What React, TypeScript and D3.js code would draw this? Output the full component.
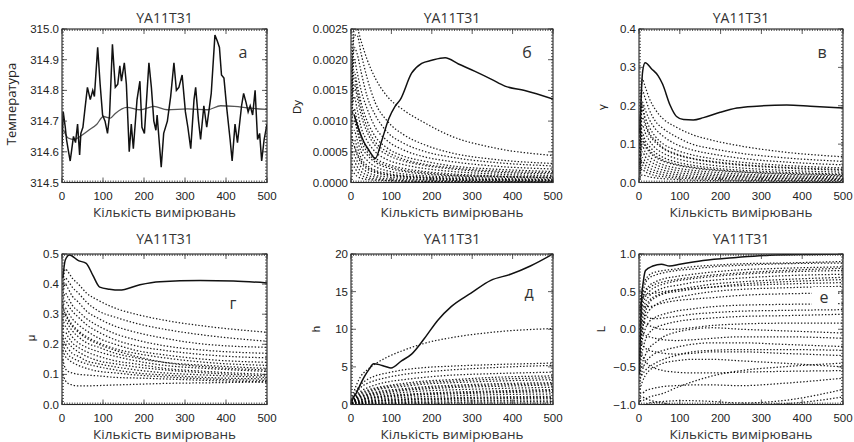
import React from 'react';
import * as d3 from 'd3';

const W = 854;
const H = 442;

// box positions of the 3x2 grid
const cols = [[62, 267], [351, 553], [639, 843]];
const rows = [[29, 182.5], [254, 404.5]];

const xTicks = [0, 100, 200, 300, 400, 500];
// common x points of the dotted ensemble curves
const ensX = [2, 8, 15, 25, 40, 60, 90, 130, 180, 250, 350, 500];

// panel a: temperature
const tempPoints = [
  [0, 314.62], [3, 314.73], [8, 314.68], [11, 314.64], [16, 314.60], [20, 314.57], [25, 314.62],
  [28, 314.65], [33, 314.63], [38, 314.69], [43, 314.59], [46, 314.66], [51, 314.68], [56, 314.74],
  [62, 314.81], [69, 314.77], [75, 314.80], [79, 314.78], [87, 314.94], [93, 314.82], [99, 314.72],
  [105, 314.70], [111, 314.66], [116, 314.72], [123, 314.95], [130, 314.81], [136, 314.82],
  [141, 314.88], [145, 314.83], [152, 314.89], [157, 314.82], [164, 314.60], [169, 314.69],
  [174, 314.61], [183, 314.77], [190, 314.83], [195, 314.68], [201, 314.66], [212, 314.89],
  [218, 314.81], [224, 314.70], [229, 314.67], [232, 314.72], [242, 314.55], [248, 314.66],
  [257, 314.70], [265, 314.78], [273, 314.89], [279, 314.80], [285, 314.81], [293, 314.85],
  [301, 314.73], [307, 314.68], [314, 314.61], [322, 314.77], [326, 314.81], [333, 314.70],
  [338, 314.64], [346, 314.75], [353, 314.68], [364, 314.79], [373, 314.98], [379, 314.96],
  [384, 314.94], [389, 314.85], [395, 314.84], [402, 314.74], [410, 314.64], [415, 314.57],
  [422, 314.69], [428, 314.63], [438, 314.75], [443, 314.79], [449, 314.76], [454, 314.73],
  [459, 314.75], [465, 314.72], [471, 314.80], [477, 314.64], [482, 314.66], [487, 314.57],
  [493, 314.64], [500, 314.69],
];
const tempMean = [
  [4, 314.67], [15, 314.645], [30, 314.64], [44, 314.65], [65, 314.67], [85, 314.69], [101, 314.715],
  [118, 314.71], [130, 314.725], [158, 314.745], [191, 314.737], [224, 314.748], [257, 314.737],
  [306, 314.74], [355, 314.737], [387, 314.75], [420, 314.748], [460, 314.742], [500, 314.738],
];

// panel b: Dy
const dyMain = [
  [8, 0.0011], [20, 0.00085], [32, 0.00066], [45, 0.00052], [60, 0.00039], [76, 0.00068], [93, 0.00103],
  [109, 0.00124], [122, 0.00135], [150, 0.00178], [175, 0.00194], [200, 0.00199], [233, 0.00203],
  [266, 0.00193], [307, 0.00181], [348, 0.00168], [381, 0.00157], [430, 0.0015], [500, 0.00136],
];
const dyEns = [
  [0.0018, 0.0025, 0.0025, 0.0023, 0.0020, 0.0017, 0.0014, 0.00118, 0.00098, 0.00075, 0.00057, 0.00044],
  [0.0016, 0.0024, 0.0024, 0.0021, 0.0017, 0.0013, 0.0010, 0.00078, 0.00062, 0.00048, 0.00038, 0.00031],
  [0.0015, 0.0022, 0.0021, 0.0018, 0.0014, 0.0011, 0.00082, 0.00064, 0.00051, 0.00041, 0.00033, 0.00027],
  [0.0014, 0.0020, 0.0018, 0.0015, 0.0012, 0.0009, 0.00068, 0.00053, 0.00042, 0.00034, 0.00027, 0.00022],
  [0.0013, 0.0018, 0.0016, 0.0013, 0.0010, 0.00075, 0.00056, 0.00043, 0.00035, 0.00027, 0.00022, 0.00018],
  [0.0012, 0.0016, 0.0014, 0.0011, 0.00082, 0.0006, 0.00045, 0.00035, 0.00028, 0.00022, 0.00017, 0.00014],
  [0.0011, 0.0014, 0.0012, 0.0009, 0.00068, 0.0005, 0.00037, 0.00029, 0.00023, 0.00018, 0.00014, 0.00011],
  [0.0010, 0.0012, 0.0010, 0.00075, 0.00055, 0.0004, 0.0003, 0.00023, 0.00018, 0.00014, 0.00011, 0.00009],
  [0.0009, 0.0010, 0.00085, 0.0006, 0.00045, 0.00033, 0.00024, 0.00018, 0.00014, 0.00011, 0.00009, 0.00007],
  [0.0008, 0.00085, 0.0007, 0.0005, 0.00036, 0.00026, 0.00019, 0.00014, 0.00011, 0.00009, 0.00007, 0.00005],
  [0.0007, 0.0007, 0.00058, 0.0004, 0.00028, 0.0002, 0.00015, 0.00011, 0.00009, 0.00007, 0.00005, 0.00004],
  [0.0006, 0.00058, 0.00045, 0.00032, 0.00022, 0.00016, 0.00012, 0.00009, 0.00007, 0.00005, 0.00004, 0.00003],
  [0.0005, 0.00045, 0.00035, 0.00025, 0.00017, 0.00012, 0.00009, 0.00007, 0.00005, 0.00004, 0.00003, 0.00002],
  [0.0004, 0.00035, 0.00026, 0.00018, 0.00012, 0.00009, 0.00006, 0.00005, 0.00004, 0.00003, 0.00002, 0.00001],
  [0.0003, 0.00025, 0.00018, 0.00012, 0.00008, 0.00006, 0.00004, 0.00003, 0.00002, 0.00002, 0.00001, 0.00001],
  [0.0002, 0.00015, 0.0001, 0.00007, 0.00005, 0.00004, 0.00003, 0.00002, 0.00002, 0.00001, 0.00001, 0.000005],
  [0.00165, 0.0017, 0.0015, 0.0012, 0.0009, 0.00066, 0.0005, 0.00038, 0.0003, 0.00024, 0.00019, 0.00016],
  [0.00115, 0.0011, 0.0009, 0.00068, 0.0005, 0.00036, 0.00027, 0.0002, 0.00016, 0.00012, 0.0001, 0.00008],
  [0.00075, 0.0006, 0.00048, 0.00035, 0.00025, 0.00018, 0.00013, 0.0001, 0.00008, 0.00006, 0.00005, 0.00004],
];

// panel c: gamma
const gammaMain = [
  [2, 0.13], [9, 0.29], [15, 0.312], [31, 0.296], [47, 0.278], [58, 0.256], [76, 0.202], [92, 0.172],
  [109, 0.164], [133, 0.163], [158, 0.169], [199, 0.183], [240, 0.194], [289, 0.199], [362, 0.202],
  [420, 0.199], [500, 0.194],
];
const gammaEns = [
  [0.12, 0.27, 0.25, 0.22, 0.19, 0.165, 0.145, 0.125, 0.11, 0.095, 0.08, 0.067],
  [0.10, 0.24, 0.22, 0.19, 0.16, 0.14, 0.12, 0.10, 0.088, 0.076, 0.065, 0.055],
  [0.09, 0.21, 0.19, 0.165, 0.14, 0.12, 0.10, 0.085, 0.074, 0.063, 0.054, 0.046],
  [0.08, 0.19, 0.17, 0.145, 0.12, 0.10, 0.085, 0.072, 0.062, 0.053, 0.045, 0.038],
  [0.07, 0.17, 0.15, 0.125, 0.105, 0.088, 0.073, 0.062, 0.053, 0.045, 0.038, 0.032],
  [0.06, 0.15, 0.13, 0.11, 0.09, 0.076, 0.063, 0.053, 0.045, 0.038, 0.032, 0.027],
  [0.05, 0.13, 0.11, 0.095, 0.078, 0.065, 0.054, 0.045, 0.038, 0.032, 0.027, 0.022],
  [0.045, 0.11, 0.095, 0.08, 0.066, 0.055, 0.046, 0.038, 0.032, 0.027, 0.022, 0.018],
  [0.04, 0.095, 0.08, 0.068, 0.056, 0.046, 0.038, 0.032, 0.027, 0.022, 0.018, 0.015],
  [0.035, 0.08, 0.068, 0.057, 0.047, 0.039, 0.032, 0.027, 0.022, 0.018, 0.015, 0.012],
  [0.03, 0.065, 0.056, 0.047, 0.039, 0.032, 0.026, 0.022, 0.018, 0.015, 0.012, 0.010],
  [0.025, 0.055, 0.046, 0.038, 0.031, 0.026, 0.021, 0.017, 0.014, 0.012, 0.010, 0.008],
  [0.02, 0.045, 0.037, 0.030, 0.025, 0.020, 0.016, 0.013, 0.011, 0.009, 0.007, 0.006],
  [0.015, 0.035, 0.028, 0.023, 0.018, 0.015, 0.012, 0.010, 0.008, 0.006, 0.005, 0.004],
  [0.01, 0.02, 0.018, 0.015, 0.012, 0.01, 0.008, 0.006, 0.005, 0.004, 0.003, 0.002],
  [0.16, 0.2, 0.16, 0.13, 0.11, 0.09, 0.075, 0.063, 0.055, 0.047, 0.04, 0.034],
  [0.14, 0.12, 0.1, 0.085, 0.07, 0.058, 0.048, 0.04, 0.034, 0.028, 0.024, 0.02],
];

// panel d: mu
const muMain = [
  [2, 0.42], [8, 0.48], [18, 0.497], [40, 0.478], [59, 0.469], [75, 0.43], [92, 0.39], [116, 0.383],
  [140, 0.38], [190, 0.398], [239, 0.408], [337, 0.412], [418, 0.41], [500, 0.404],
];
const muEns = [
  [0.40, 0.45, 0.44, 0.42, 0.40, 0.37, 0.345, 0.32, 0.30, 0.28, 0.26, 0.24],
  [0.38, 0.42, 0.41, 0.39, 0.37, 0.34, 0.31, 0.29, 0.27, 0.25, 0.23, 0.21],
  [0.36, 0.40, 0.385, 0.36, 0.34, 0.31, 0.285, 0.26, 0.24, 0.22, 0.20, 0.19],
  [0.34, 0.37, 0.355, 0.33, 0.31, 0.285, 0.26, 0.235, 0.215, 0.195, 0.18, 0.17],
  [0.32, 0.345, 0.33, 0.31, 0.29, 0.265, 0.24, 0.215, 0.195, 0.18, 0.165, 0.155],
  [0.30, 0.32, 0.305, 0.285, 0.265, 0.245, 0.22, 0.20, 0.18, 0.165, 0.15, 0.14],
  [0.28, 0.30, 0.285, 0.265, 0.245, 0.225, 0.205, 0.185, 0.17, 0.155, 0.14, 0.13],
  [0.26, 0.28, 0.265, 0.245, 0.225, 0.205, 0.19, 0.17, 0.155, 0.14, 0.13, 0.12],
  [0.25, 0.26, 0.245, 0.225, 0.205, 0.19, 0.175, 0.16, 0.145, 0.13, 0.12, 0.11],
  [0.24, 0.24, 0.225, 0.205, 0.19, 0.175, 0.16, 0.145, 0.135, 0.12, 0.11, 0.10],
  [0.23, 0.22, 0.205, 0.19, 0.175, 0.16, 0.145, 0.135, 0.125, 0.115, 0.105, 0.095],
  [0.22, 0.20, 0.185, 0.17, 0.16, 0.145, 0.135, 0.125, 0.115, 0.105, 0.098, 0.09],
  [0.20, 0.18, 0.165, 0.155, 0.145, 0.135, 0.125, 0.115, 0.105, 0.098, 0.09, 0.085],
  [0.18, 0.16, 0.15, 0.14, 0.13, 0.12, 0.11, 0.105, 0.098, 0.092, 0.085, 0.08],
  [0.15, 0.12, 0.11, 0.105, 0.10, 0.098, 0.095, 0.09, 0.088, 0.085, 0.08, 0.075],
  [0.10, 0.08, 0.07, 0.065, 0.062, 0.062, 0.063, 0.065, 0.067, 0.07, 0.072, 0.075],
  [0.33, 0.3, 0.28, 0.26, 0.24, 0.22, 0.2, 0.18, 0.16, 0.14, 0.125, 0.115],
];

// panel e: h
const hMain = [
  [0, 0.2], [5, 0.9], [11, 1.3], [19, 2.2], [32, 3.6], [45, 4.7], [56, 5.4], [70, 5.3], [85, 5.05],
  [99, 4.85], [125, 5.8], [150, 6.7], [182, 8.8], [215, 11.2], [248, 13.0], [297, 14.8], [346, 16.5],
  [395, 17.3], [444, 18.4], [500, 20.0],
];
const hEns = [
  [0.6, 1.8, 2.8, 3.8, 4.6, 5.4, 6.3, 7.2, 8.1, 8.9, 9.6, 10.1],
  [0.5, 1.3, 2.0, 2.7, 3.3, 3.8, 4.2, 4.6, 4.9, 5.1, 5.3, 5.5],
  [0.45, 1.1, 1.7, 2.3, 2.8, 3.2, 3.6, 4.0, 4.3, 4.6, 4.9, 5.2],
  [0.4, 0.9, 1.4, 1.8, 2.2, 2.6, 3.0, 3.3, 3.6, 3.9, 4.1, 4.3],
  [0.35, 0.8, 1.2, 1.6, 1.9, 2.2, 2.5, 2.8, 3.1, 3.3, 3.6, 3.8],
  [0.3, 0.7, 1.0, 1.3, 1.6, 1.9, 2.2, 2.4, 2.7, 2.9, 3.1, 3.3],
  [0.28, 0.6, 0.9, 1.15, 1.4, 1.65, 1.9, 2.1, 2.35, 2.55, 2.75, 2.9],
  [0.25, 0.5, 0.75, 1.0, 1.2, 1.4, 1.6, 1.85, 2.05, 2.25, 2.4, 2.6],
  [0.22, 0.45, 0.65, 0.85, 1.05, 1.25, 1.4, 1.6, 1.8, 1.95, 2.1, 2.3],
  [0.2, 0.4, 0.55, 0.7, 0.9, 1.05, 1.2, 1.35, 1.5, 1.65, 1.8, 2.0],
  [0.18, 0.35, 0.45, 0.6, 0.75, 0.88, 1.0, 1.15, 1.3, 1.4, 1.55, 1.7],
  [0.15, 0.3, 0.4, 0.5, 0.6, 0.72, 0.82, 0.95, 1.05, 1.15, 1.3, 1.4],
  [0.12, 0.25, 0.32, 0.4, 0.48, 0.56, 0.65, 0.75, 0.82, 0.9, 1.0, 1.1],
  [0.1, 0.2, 0.25, 0.3, 0.36, 0.42, 0.5, 0.56, 0.62, 0.7, 0.76, 0.82],
  [0.08, 0.15, 0.18, 0.22, 0.26, 0.3, 0.35, 0.4, 0.44, 0.5, 0.54, 0.6],
  [0.05, 0.1, 0.12, 0.15, 0.17, 0.2, 0.23, 0.26, 0.29, 0.32, 0.35, 0.38],
  [0.03, 0.05, 0.06, 0.08, 0.09, 0.1, 0.12, 0.14, 0.15, 0.17, 0.19, 0.2],
  [0.32, 0.75, 1.1, 1.45, 1.75, 2.05, 2.35, 2.6, 2.9, 3.1, 3.35, 3.55],
  [0.26, 0.55, 0.82, 1.08, 1.3, 1.52, 1.75, 1.97, 2.2, 2.4, 2.58, 2.75],
  [0.19, 0.38, 0.5, 0.65, 0.82, 0.96, 1.1, 1.25, 1.4, 1.52, 1.68, 1.85],
  [0.11, 0.22, 0.28, 0.35, 0.42, 0.49, 0.57, 0.65, 0.72, 0.8, 0.88, 0.96],
];

// panel f: L
const lMain = [
  [1, -0.6], [6, 0.375], [11, 0.65], [16, 0.78], [34, 0.84], [55, 0.865], [75, 0.84], [100, 0.865],
  [157, 0.915], [239, 0.955], [321, 0.985], [420, 0.995], [500, 1.0],
];
const lEns = [
  [0.2, 0.45, 0.6, 0.68, 0.72, 0.75, 0.78, 0.8, 0.83, 0.85, 0.87, 0.88],
  [0.1, 0.35, 0.5, 0.58, 0.63, 0.67, 0.70, 0.73, 0.76, 0.79, 0.81, 0.83],
  [0.0, 0.28, 0.42, 0.5, 0.56, 0.6, 0.64, 0.67, 0.7, 0.73, 0.76, 0.78],
  [-0.1, 0.2, 0.35, 0.44, 0.5, 0.55, 0.58, 0.62, 0.65, 0.68, 0.71, 0.73],
  [-0.2, 0.1, 0.28, 0.38, 0.44, 0.48, 0.52, 0.56, 0.6, 0.63, 0.66, 0.69],
  [0.3, 0.4, 0.45, 0.47, 0.48, 0.5, 0.52, 0.54, 0.56, 0.58, 0.6, 0.62],
  [-0.3, 0.0, 0.15, 0.25, 0.32, 0.38, 0.42, 0.46, 0.5, 0.53, 0.55, 0.57],
  [0.25, 0.3, 0.3, 0.3, 0.32, 0.35, 0.38, 0.4, 0.42, 0.45, 0.47, 0.48],
  [-0.4, -0.15, 0.0, 0.1, 0.16, 0.2, 0.24, 0.27, 0.3, 0.32, 0.33, 0.34],
  [0.15, 0.2, 0.18, 0.15, 0.14, 0.15, 0.17, 0.2, 0.22, 0.24, 0.25, 0.26],
  [-0.5, -0.3, -0.15, -0.05, 0.02, 0.06, 0.1, 0.13, 0.15, 0.17, 0.18, 0.2],
  [0.05, 0.1, 0.08, 0.05, 0.02, 0.0, 0.0, 0.02, 0.05, 0.07, 0.08, 0.08],
  [-0.6, -0.45, -0.35, -0.25, -0.18, -0.1, -0.04, 0.0, 0.02, 0.0, -0.02, -0.05],
  [-0.05, -0.05, -0.08, -0.1, -0.12, -0.14, -0.15, -0.14, -0.12, -0.1, -0.1, -0.12],
  [-0.7, -0.55, -0.45, -0.38, -0.32, -0.28, -0.24, -0.2, -0.18, -0.18, -0.2, -0.23],
  [-0.15, -0.2, -0.25, -0.28, -0.3, -0.32, -0.33, -0.32, -0.3, -0.3, -0.32, -0.35],
  [-0.8, -0.7, -0.62, -0.55, -0.5, -0.45, -0.42, -0.4, -0.4, -0.42, -0.45, -0.5],
  [-0.95, -0.95, -0.93, -0.9, -0.88, -0.85, -0.78, -0.7, -0.62, -0.55, -0.5, -0.45],
  [-0.25, -0.35, -0.42, -0.48, -0.52, -0.55, -0.57, -0.58, -0.58, -0.57, -0.56, -0.55],
  [-0.85, -0.85, -0.82, -0.8, -0.78, -0.76, -0.75, -0.74, -0.74, -0.75, -0.72, -0.65],
  [-1.0, -1.0, -1.0, -0.98, -0.97, -0.96, -0.95, -0.95, -0.96, -0.98, -0.95, -0.8],
  [-0.9, -0.9, -0.92, -0.94, -0.96, -0.98, -1.0, -1.0, -1.0, -1.0, -0.99, -0.9],
  [0.35, 0.55, 0.65, 0.72, 0.76, 0.78, 0.8, 0.83, 0.85, 0.87, 0.88, 0.9],
  [-0.35, -0.05, 0.2, 0.35, 0.42, 0.47, 0.5, 0.53, 0.56, 0.6, 0.63, 0.66],
  [-0.65, -0.6, -0.55, -0.5, -0.45, -0.4, -0.35, -0.3, -0.28, -0.27, -0.27, -0.28],
  [0.28, 0.42, 0.5, 0.55, 0.6, 0.63, 0.66, 0.69, 0.72, 0.75, 0.78, 0.81],
];

const tempTicks = [314.5, 314.6, 314.7, 314.8, 314.9, 315.0];
const dyTicks = [0, 0.0005, 0.001, 0.0015, 0.002, 0.0025];
const gammaTicks = [0, 0.1, 0.2, 0.3, 0.4];
const muTicks = [0, 0.1, 0.2, 0.3, 0.4, 0.5];
const hTicks = [0, 5, 10, 15, 20];
const lTicks = [-1, -0.5, 0, 0.5, 1];

const titleText = 'YA11T31';
const xTitleText = 'Кількість вимірювань';

const panels = [
  { id: 'a', col: 0, row: 0, domain: [314.5, 315.0], ticks: tempTicks, fmt: d3.format('.1f'),
    yTitle: 'Температура', yTitleX: 16, yTitleY: 104, yTitleCyr: true,
    letter: 'а', lx: 243, ly: 58, main: tempPoints, mainCurve: d3.curveLinear, extra: tempMean, ens: [] },
  { id: 'b', col: 1, row: 0, domain: [0, 0.0025], ticks: dyTicks, fmt: d3.format('.4f'),
    yTitle: 'Dy', yTitleX: 301, yTitleY: 107,
    letter: 'б', lx: 527, ly: 58, main: dyMain, mainCurve: d3.curveMonotoneX, ens: dyEns },
  { id: 'c', col: 2, row: 0, domain: [0, 0.4], ticks: gammaTicks, fmt: d3.format('.1f'),
    yTitle: 'γ', yTitleX: 606, yTitleY: 107,
    letter: 'в', lx: 822, ly: 58, main: gammaMain, mainCurve: d3.curveMonotoneX, ens: gammaEns },
  { id: 'd', col: 0, row: 1, domain: [0, 0.5], ticks: muTicks, fmt: d3.format('.1f'),
    yTitle: 'μ', yTitleX: 35, yTitleY: 338,
    letter: 'г', lx: 233, ly: 309, main: muMain, mainCurve: d3.curveMonotoneX, ens: muEns },
  { id: 'e', col: 1, row: 1, domain: [0, 20], ticks: hTicks, fmt: d3.format('d'),
    yTitle: 'h', yTitleX: 320, yTitleY: 329,
    letter: 'д', lx: 529, ly: 298, main: hMain, mainCurve: d3.curveMonotoneX, ens: hEns },
  { id: 'f', col: 2, row: 1, domain: [-1, 1], ticks: lTicks, fmt: (v) => d3.format('.1f')(v).replace('-', '−'),
    yTitle: 'L', yTitleX: 605, yTitleY: 329,
    letter: 'е', lx: 824, ly: 303, box: true, main: lMain, mainCurve: d3.curveMonotoneX, ens: lEns },
];

const cyr = "'Open Sans', 'Noto Sans', sans-serif";
const idl = "'Liberation Sans', Arial, sans-serif";

function Panel({ p }) {
  const [x0, x1] = cols[p.col];
  const [y0, y1] = rows[p.row];
  const x = d3.scaleLinear().domain([0, 500]).range([x0, x1]);
  const y = d3.scaleLinear().domain(p.domain).range([y1, y0]);
  const line = d3.line().x((d) => x(d[0])).y((d) => y(d[1]));
  const span = p.domain[1] - p.domain[0];
  const xMinor = d3.range(0, 500.01, 100 / 16);
  const yMinor = d3.range(0, 50.01, 1).map((i) => p.domain[0] + (span * i) / 50);
  const cx = (x0 + x1) / 2;
  const clip = `clip-${p.id}`;

  return (
    <g>
      <defs>
        <clipPath id={clip}>
          <rect x={x0} y={y0} width={x1 - x0} height={y1 - y0} />
        </clipPath>
      </defs>
      <text x={cx} y={rows[p.row][0] - (p.row === 0 ? 6 : 10)} textAnchor="middle"
        fontFamily={cyr} fontSize={14} fill="#333">{titleText}</text>

      <g clipPath={`url(#${clip})`}>
        {p.ens.map((vals, i) => (
          <path key={i} d={line.curve(d3.curveMonotoneX)(ensX.map((xv, j) => [xv, vals[j]]))}
            fill="none" stroke="#000" strokeWidth={1.25} strokeDasharray="1.4 1.9" opacity={0.9} />
        ))}
        {p.extra && (
          <path d={line.curve(d3.curveMonotoneX)(p.extra)} fill="none" stroke="#555" strokeWidth={1.3} />
        )}
        <path d={line.curve(p.mainCurve)(p.main)} fill="none" stroke="#111" strokeWidth={1.5} />
      </g>

      {p.box && <rect x={p.lx - 12} y={p.ly - 16} width={25} height={20} fill="#fff" />}
      <text x={p.lx} y={p.ly} textAnchor="middle" fontFamily={cyr} fontSize={16} fill="#333">{p.letter}</text>

      {/* frame and inward ticks on all sides */}
      <rect x={x0} y={y0} width={x1 - x0} height={y1 - y0} fill="none" stroke="#222" strokeWidth={1.1} />
      <g stroke="#333" strokeWidth={0.8}>
        {xMinor.map((v, i) => (
          <g key={'xm' + i}>
            <line x1={x(v)} x2={x(v)} y1={y1} y2={y1 - 2} />
            <line x1={x(v)} x2={x(v)} y1={y0} y2={y0 + 2} />
          </g>
        ))}
        {yMinor.map((v, i) => (
          <g key={'ym' + i}>
            <line x1={x0} x2={x0 + 2} y1={y(v)} y2={y(v)} />
            <line x1={x1} x2={x1 - 2} y1={y(v)} y2={y(v)} />
          </g>
        ))}
        {xTicks.map((v) => (
          <g key={'xt' + v}>
            <line x1={x(v)} x2={x(v)} y1={y1} y2={y1 - 5} />
            <line x1={x(v)} x2={x(v)} y1={y0} y2={y0 + 5} />
          </g>
        ))}
        {p.ticks.map((v) => (
          <g key={'yt' + v}>
            <line x1={x0} x2={x0 + 5} y1={y(v)} y2={y(v)} />
            <line x1={x1} x2={x1 - 5} y1={y(v)} y2={y(v)} />
          </g>
        ))}
      </g>

      {xTicks.map((v) => (
        <text key={'xl' + v} x={x(v)} y={y1 + 17} textAnchor="middle" fontFamily={idl}
          fontSize={11.5} fill="#222">{v}</text>
      ))}
      {p.ticks.map((v) => (
        <text key={'yl' + v} x={x0 - 3} y={y(v) + 4} textAnchor="end" fontFamily={idl}
          fontSize={11.5} fill="#222">{p.fmt(v)}</text>
      ))}
      <text x={cx} y={y1 + 34} textAnchor="middle" fontFamily={cyr} fontSize={13.5} fill="#333">{xTitleText}</text>
      <text transform={`translate(${p.yTitleX},${p.yTitleY}) rotate(-90)`} textAnchor="middle"
        fontFamily={p.yTitleCyr ? cyr : idl} fontSize={p.yTitleCyr ? 13 : 11.5} fill="#222">{p.yTitle}</text>
    </g>
  );
}

export default function App() {
  return (
    <svg width={W} height={H} style={{ display: 'block', position: 'absolute', left: 0, top: 0, background: '#fff' }}>
      <rect width={W} height={H} fill="#fff" />
      {panels.map((p) => <Panel key={p.id} p={p} />)}
    </svg>
  );
}
